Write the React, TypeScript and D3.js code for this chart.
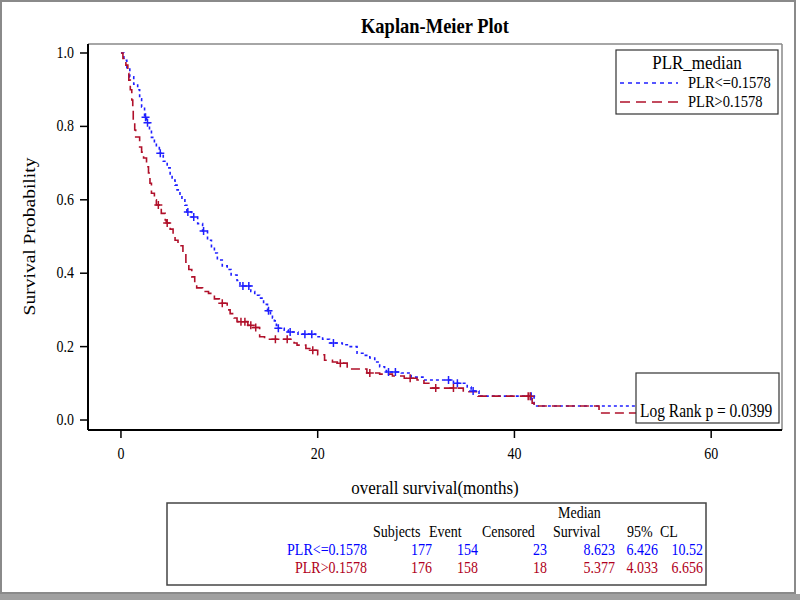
import React from "react";
import * as d3 from "d3";

// ---- Data ----
const groupNames = ["PLR<=0.1578", "PLR>0.1578"];
const legendTitle = "PLR_median";
const xTicks = [0, 20, 40, 60];
const yTicks = [0, 0.2, 0.4, 0.6, 0.8, 1.0];

const blueTimes = [0, 0.3, 0.6, 0.9, 1.3, 1.7, 1.9, 2.1, 2.4, 2.6, 2.9, 3.1, 3.4, 3.6, 3.9, 4.3, 4.7, 5.0, 5.2, 5.5, 5.7, 6.0, 6.2, 6.5, 6.7, 7.2, 7.8, 8.3, 8.8, 9.2, 9.5, 9.8, 10.3, 10.8, 11.2, 11.8, 12.1, 13.2, 13.6, 14.1, 14.5, 14.9, 15.2, 15.4, 15.6, 15.8, 16.0, 16.6, 17.0, 18.0, 19.8, 20.5, 21.2, 22.5, 23.3, 24.0, 24.6, 25.3, 25.8, 26.3, 26.8, 27.0, 28.5, 29.5, 30.7, 33.8, 35.2, 35.6, 36.4, 42.0, 62.0];
const blueSurv = [1.0, 0.98, 0.96, 0.935, 0.915, 0.9, 0.875, 0.853, 0.825, 0.81, 0.79, 0.77, 0.755, 0.745, 0.727, 0.705, 0.687, 0.668, 0.654, 0.64, 0.627, 0.612, 0.6, 0.585, 0.567, 0.553, 0.535, 0.515, 0.49, 0.47, 0.455, 0.436, 0.42, 0.41, 0.395, 0.38, 0.365, 0.35, 0.34, 0.332, 0.315, 0.298, 0.286, 0.278, 0.27, 0.258, 0.25, 0.245, 0.24, 0.234, 0.227, 0.22, 0.21, 0.205, 0.2, 0.182, 0.176, 0.169, 0.158, 0.145, 0.135, 0.131, 0.128, 0.117, 0.109, 0.1, 0.09, 0.079, 0.065, 0.038, 0.038];
const blueCensor = [2.5, 2.7, 4.0, 6.8, 7.4, 8.4, 12.4, 13.0, 15.0, 16.0, 17.2, 18.7, 19.4, 21.6, 27.2, 27.9, 33.3, 34.2, 35.8, 41.7];

const redTimes = [0, 0.2, 0.5, 0.7, 0.8, 0.95, 1.1, 1.2, 1.25, 1.4, 1.5, 1.9, 2.1, 2.3, 2.6, 2.8, 2.95, 3.1, 3.4, 3.6, 4.1, 4.5, 4.6, 5.0, 5.3, 5.5, 5.8, 6.3, 6.6, 6.9, 7.2, 7.5, 7.7, 8.3, 8.9, 9.5, 10.0, 10.8, 11.1, 11.5, 11.8, 12.9, 13.4, 14.1, 14.6, 17.6, 17.9, 18.8, 19.2, 20.0, 20.7, 21.5, 22.0, 23.0, 25.0, 26.3, 27.6, 28.8, 30.1, 30.8, 31.4, 34.8, 36.3, 41.8, 42.0, 48.6, 62.0];
const redSurv = [1.0, 0.985, 0.967, 0.945, 0.926, 0.9, 0.872, 0.845, 0.817, 0.79, 0.771, 0.744, 0.73, 0.714, 0.69, 0.673, 0.645, 0.618, 0.6, 0.586, 0.563, 0.545, 0.537, 0.52, 0.5, 0.49, 0.475, 0.455, 0.43, 0.41, 0.39, 0.37, 0.36, 0.35, 0.345, 0.33, 0.318, 0.3, 0.29, 0.278, 0.268, 0.258, 0.252, 0.227, 0.22, 0.21, 0.204, 0.195, 0.19, 0.178, 0.163, 0.158, 0.155, 0.139, 0.128, 0.125, 0.12, 0.114, 0.109, 0.1, 0.087, 0.077, 0.065, 0.046, 0.038, 0.019, 0.019];
const redCensor = [3.8, 4.7, 10.3, 12.2, 12.6, 13.2, 13.7, 15.7, 16.9, 19.5, 22.3, 25.3, 29.4, 32.0, 33.8, 41.4, 41.6];

const tableHeaderTop = ["Median"];
const tableHeader = ["Subjects", "Event", "Censored", "Survival", "95%", "CL"];
const tableRow1 = ["PLR<=0.1578", "177", "154", "23", "8.623", "6.426", "10.52"];
const tableRow2 = ["PLR>0.1578", "176", "158", "18", "5.377", "4.033", "6.656"];
const logRankText = "Log Rank p = 0.0399";

// ---- Layout ----
const W = 800, H = 600;
const PL = 88, PR = 782, PT = 44, PB = 430;
const BLUE = "#1f1fff";
const RED = "#b0102a";
const FONT = "'Liberation Serif', 'Times New Roman', serif";
const SY = 1.15; // vertical stretch of the lettering

const x = d3.scaleLinear().domain([-3.35, 67.2]).range([PL, PR]);
const y = d3.scaleLinear().domain([-0.0272, 1.0245]).range([PB, PT]);

function stepAt(times: number[], surv: number[], t: number) {
  let s = surv[0];
  for (let i = 0; i < times.length; i++) if (times[i] <= t) s = surv[i];
  return s;
}

const line = d3
  .line<[number, number]>()
  .x((d) => x(d[0]))
  .y((d) => y(d[1]))
  .curve(d3.curveStepAfter);

const colRight = [367, 432, 478, 547, 615, 658, 703];
const headLeft = [373, 429, 482, 553, 627, 660];

function T(props: { x: number; y: number; size: number; anchor?: string; fill?: string; bold?: boolean; rotate?: boolean; children: React.ReactNode }) {
  const { x: tx, y: ty, size, anchor = "start", fill = "#000", bold, rotate, children } = props;
  const tr = rotate
    ? `translate(${tx},${ty}) scale(1,${SY}) rotate(-90)`
    : `translate(${tx},${ty}) scale(1,${SY})`;
  return (
    <text transform={tr} textAnchor={anchor} fontSize={size} fill={fill} fontWeight={bold ? "bold" : "normal"}>
      {children}
    </text>
  );
}

export default function App() {
  const blueData = blueTimes.map((t, i) => [t, blueSurv[i]] as [number, number]);
  const redData = redTimes.map((t, i) => [t, redSurv[i]] as [number, number]);
  const plus = (cx: number, cy: number, color: string, k: string) => (
    <path key={k} d={`M${cx - 4},${cy}H${cx + 4}M${cx},${cy - 4}V${cy + 4}`} stroke={color} strokeWidth={1.5} fill="none" />
  );
  return (
    <svg width={W} height={H} style={{ position: "absolute", left: 0, top: 0, background: "#fff" }} fontFamily={FONT}>
      <rect x={0} y={0} width={W} height={H} fill="#fff" />
      {/* outer border */}
      <rect x={1} y={1} width={794} height={592} fill="none" stroke="#8a8a8a" strokeWidth={2} />
      <rect x={0} y={594} width={W} height={6} fill="#a0a0a0" />

      <T x={(PL + PR) / 2} y={33} size={18.5} anchor="middle" bold>Kaplan-Meier Plot</T>

      {/* frame */}
      <line x1={PL} y1={PT} x2={PR} y2={PT} stroke="#888" strokeWidth={1.5} />
      <line x1={PR} y1={PT} x2={PR} y2={PB} stroke="#888" strokeWidth={1.5} />
      <line x1={PL} y1={PT} x2={PL} y2={PB} stroke="#000" strokeWidth={2} />
      <line x1={PL} y1={PB} x2={PR} y2={PB} stroke="#000" strokeWidth={2} />

      {yTicks.map((v) => (
        <g key={"y" + v}>
          <line x1={PL - 8} x2={PL} y1={y(v)} y2={y(v)} stroke="#000" strokeWidth={1.5} />
          <T x={PL - 14} y={y(v) + 5} size={14} anchor="end">{v.toFixed(1)}</T>
        </g>
      ))}
      {xTicks.map((v) => (
        <g key={"x" + v}>
          <line x1={x(v)} x2={x(v)} y1={PB} y2={PB + 8} stroke="#000" strokeWidth={1.5} />
          <T x={x(v)} y={459} size={14} anchor="middle">{v}</T>
        </g>
      ))}
      <T x={35} y={(y(0) + y(1)) / 2} size={17} anchor="middle" rotate>Survival Probability</T>
      <T x={(PL + PR) / 2} y={494} size={17} anchor="middle">overall survival(months)</T>

      {/* curves */}
      <path d={line(blueData) || ""} fill="none" stroke={BLUE} strokeWidth={1.6} strokeDasharray="3,3" />
      <path d={line(redData) || ""} fill="none" stroke={RED} strokeWidth={1.6} strokeDasharray="9,5" />
      {blueCensor.map((t, i) => plus(x(t), y(stepAt(blueTimes, blueSurv, t)), BLUE, "bc" + i))}
      {redCensor.map((t, i) => plus(x(t), y(stepAt(redTimes, redSurv, t)), RED, "rc" + i))}

      {/* legend */}
      <rect x={616} y={50} width={162} height={64} fill="#fff" stroke="#333" strokeWidth={1.2} />
      <T x={697} y={69} size={17} anchor="middle">{legendTitle}</T>
      <line x1={620} x2={678} y1={83} y2={83} stroke={BLUE} strokeWidth={1.6} strokeDasharray="4,4" />
      <T x={688} y={88} size={14.5}>{groupNames[0]}</T>
      <line x1={620} x2={678} y1={102} y2={102} stroke={RED} strokeWidth={1.6} strokeDasharray="10,6" />
      <T x={688} y={107} size={14.5}>{groupNames[1]}</T>

      {/* log rank inset */}
      <rect x={636} y={373} width={143} height={50} fill="#fff" stroke="#333" strokeWidth={1.2} />
      <T x={640} y={417} size={15.5}>{logRankText}</T>

      {/* table */}
      <rect x={167} y={503} width={539} height={82} fill="#fff" stroke="#444" strokeWidth={1.5} />
      <T x={558} y={518} size={14}>{tableHeaderTop[0]}</T>
      {tableHeader.map((s, i) => <T key={"h" + i} x={headLeft[i]} y={537} size={14}>{s}</T>)}
      {tableRow1.map((s, i) => <T key={"r1" + i} x={colRight[i]} y={555} size={14} anchor="end" fill="#0000ff">{s}</T>)}
      {tableRow2.map((s, i) => <T key={"r2" + i} x={colRight[i]} y={573} size={14} anchor="end" fill="#b00020">{s}</T>)}
    </svg>
  );
}
